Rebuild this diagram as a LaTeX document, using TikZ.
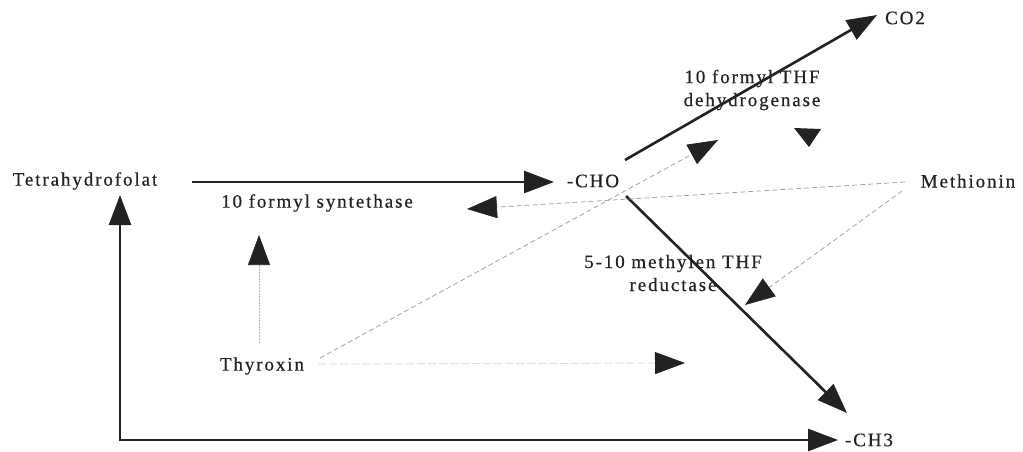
\documentclass[tikz,border=0pt]{standalone}
\usepackage{fontspec}
\setmainfont{Liberation Serif}[LetterSpace=10,FakeBold=0.4]
\usetikzlibrary{arrows.meta}
\definecolor{ink}{HTML}{222222}
\begin{document}
\begin{tikzpicture}[x=1pt,y=-1pt,
  lbl/.style={font=\fontsize{19}{23}\selectfont, text=ink, inner sep=0pt, align=center},
  tip/.style={-{Triangle[length=30pt,width=22pt,color=ink]}},
  main/.style={line width=2.6pt, draw=ink, tip},
  dsh/.style={line width=0.7pt, draw=black!40, dash pattern=on 5pt off 3pt, tip},
  dot/.style={line width=0.7pt, draw=black!30, dash pattern=on 2pt off 1pt, tip},
  faint/.style={line width=1pt, draw=black!12, dash pattern=on 8pt off 3pt, tip}]
\fill[white] (0,0) rectangle (1023,451);
\path[use as bounding box] (0,0) rectangle (1023,451);

\node[lbl] (T) at (85,181) {Tetrahydrofolat};
\node[lbl] (cho) at (593,181) {-CHO};
\node[lbl] (syn) at (317,203) {10 formyl syntethase};
\node[lbl] (thy) at (262,366) {Thyroxin};
\node[lbl] (co2) at (905,18) {CO2};
\node[lbl] (deh) at (752,90) {10 formyl THF\\dehydrogenase};
\node[lbl] (met) at (968,181) {Methionin};
\node[lbl] (red) at (673,273) {5-10 methylen THF\\reductase};
\node[lbl] (ch3) at (869,440) {-CH3};

\coordinate (dehin) at (718,140);
\coordinate (thyend) at (685,363);
\coordinate (redin) at (745,305);

% solid connectors
\draw[main] ([shift={(107,1)}]T.center) -- ([shift={(-39,1)}]cho.center);
\draw[main] ([shift={(32,-21)}]cho.center) -- ([shift={(-28,-3)}]co2.center);
\draw[main] ([shift={(33,15)}]cho.center) -- ([shift={(-22,-27)}]ch3.center);
\draw[line width=2.6pt, draw=ink, {Triangle[length=30pt,width=22pt,color=ink]}-{Triangle[length=30pt,width=22pt,color=ink]}]
  ([shift={(35,14)}]T.center) |- ([xshift=-31pt]ch3.center);

% dashed / dotted connectors
\draw[dsh] ([shift={(-63,1)}]met.center) -- ([shift={(150,6)}]syn.center);
\draw[dsh] ([shift={(-66,10)}]met.center) -- (redin);
\draw[dsh] ([shift={(58,-8)}]thy.center) -- (dehin);
\draw[dot] ([shift={(-3,-23)}]thy.center) -- ([shift={(-58,32)}]syn.center);
\draw[faint] ([shift={(56,-2)}]thy.center) -- (thyend);

% stray arrowhead
\fill[ink] (794,128) -- (821,129) -- (809,147) -- cycle;
\end{tikzpicture}
\end{document}
